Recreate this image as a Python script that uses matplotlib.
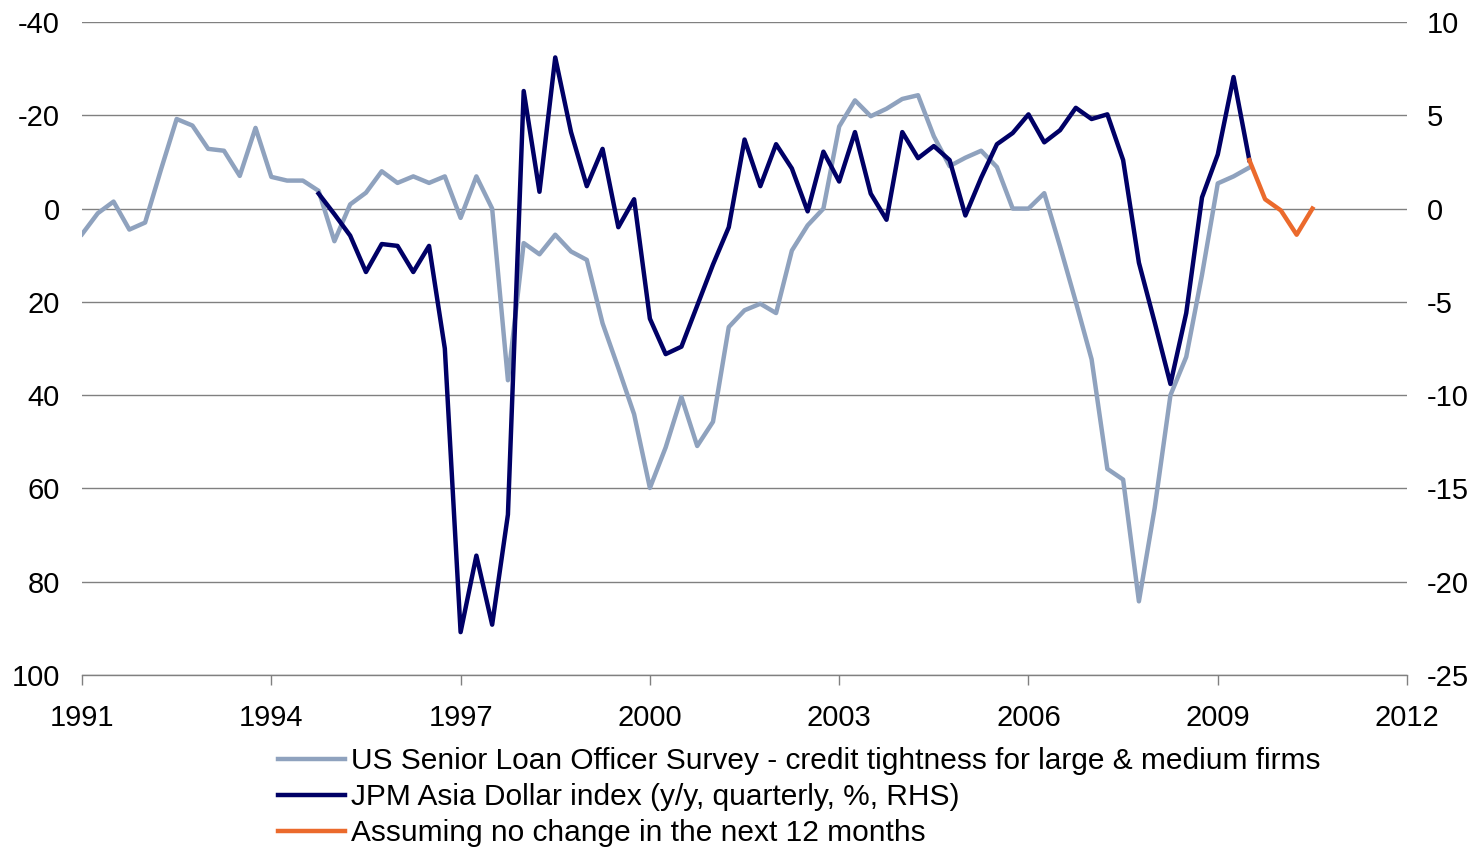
import numpy as np
import matplotlib.pyplot as plt
import matplotlib.ticker as mticker

plt.rcParams['font.family'] = ['Liberation Sans', 'DejaVu Sans']
plt.rcParams['axes.unicode_minus'] = False

# quarterly data, first point = 1991 Q1
start_year = 1991.0

# US Senior Loan Officer Survey (LHS, inverted)
sloos = [5.5, 1.0, -1.5, 4.5, 3.0, -8.3, -19.2, -17.8, -12.8, -12.4,
         -7.0, -17.3, -6.8, -6.0, -6.0, -3.8, 7.0, -0.9, -3.4, -8.0,
         -5.5, -6.9, -5.5, -6.9, 2.0, -6.9, 0.0, 36.8, 7.4, 9.8,
         5.6, 9.2, 11.0, 24.6, 34.2, 44.1, 59.9, 51.2, 40.4, 50.9,
         45.7, 25.4, 21.8, 20.4, 22.4, 9.0, 3.6, 0.0, -17.6, -23.2,
         -19.8, -21.4, -23.5, -24.3, -15.5, -9.1, -10.9, -12.4, -8.9, 0.0,
         0.0, -3.3, 8.1, 20.0, 32.3, 55.8, 58.1, 84.2, 64.2, 40.0,
         31.8, 14.2, -5.4, -6.9, -8.8]

# JPM Asia Dollar index y/y % (RHS), starts 1994 Q4
jpm_start = 15
jpm = [0.8, -0.3, -1.45, -3.4, -1.9, -2.0, -3.4, -2.0, -7.5, -22.7,
       -18.6, -22.3, -16.4, 6.3, 0.9, 8.1, 4.1, 1.2, 3.2, -1.0,
       0.5, -5.9, -7.8, -7.4, -5.2, -3.0, -1.0, 3.7, 1.2, 3.45,
       2.15, -0.15, 3.05, 1.45, 4.1, 0.8, -0.6, 4.1, 2.7, 3.35,
       2.6, -0.37, 1.65, 3.45, 4.05, 5.05, 3.55, 4.2, 5.4, 4.8,
       5.05, 2.6, -2.9, -6.1, -9.4, -5.6, 0.6, 2.9, 7.05, 2.6]

# assumption: no change in the next 12 months (RHS), starts 2009 Q3
proj_start = 74
proj = [2.6, 0.5, -0.1, -1.4, 0.0]

labels = ['US Senior Loan Officer Survey - credit tightness for large & medium firms',
          'JPM Asia Dollar index (y/y, quarterly, %, RHS)',
          'Assuming no change in the next 12 months']

c_grey = '#8fa2be'
c_navy = '#000066'
c_orange = '#eb6a2c'

x_s = start_year + 0.25 * np.arange(len(sloos))
x_j = start_year + 0.25 * (jpm_start + np.arange(len(jpm)))
x_p = start_year + 0.25 * (proj_start + np.arange(len(proj)))

fig = plt.figure(figsize=(14.83, 8.49), dpi=100)
ax = fig.add_axes([0.0553, 0.2049, 0.8935, 0.7692])
ax2 = ax.twinx()

l1, = ax.plot(x_s, sloos, color=c_grey, lw=3.2, zorder=3)
l2, = ax2.plot(x_j, jpm, color=c_navy, lw=3.2, zorder=4)
l3, = ax2.plot(x_p, proj, color=c_orange, lw=3.2, zorder=4)

ax.set_xlim(1991, 2012)
ax.set_ylim(100, -40)
ax2.set_ylim(-25, 10)
ax.set_xticks(np.arange(1991, 2013, 3))
ax.set_yticks(np.arange(-40, 101, 20))
ax2.set_yticks(np.arange(-25, 11, 5))
ax.yaxis.set_major_formatter(mticker.FuncFormatter(lambda v, p: '%d' % v))

ax.grid(axis='y', color='#808080', lw=1.0)
ax.set_axisbelow(True)
for a in (ax, ax2):
    for s in ('top', 'left', 'right', 'bottom'):
        a.spines[s].set_visible(False)
ax.spines['bottom'].set_visible(True)
ax.spines['bottom'].set_color('#808080')
ax.spines['bottom'].set_linewidth(1.0)

ax.tick_params(axis='x', direction='out', length=7, width=1, color='#808080',
               labelsize=21, pad=14)
ax.tick_params(axis='y', length=0, labelsize=21, pad=16)
ax2.tick_params(axis='y', length=0, labelsize=21, pad=14)

fig.legend([l1, l2, l3], labels, loc='upper left',
           bbox_to_anchor=(0.1875, 0.12), frameon=False, fontsize=21.5,
           handlelength=2.24, handletextpad=0.2, labelspacing=0.27,
           borderaxespad=0, borderpad=0)

fig.savefig('out.png', dpi=100)
